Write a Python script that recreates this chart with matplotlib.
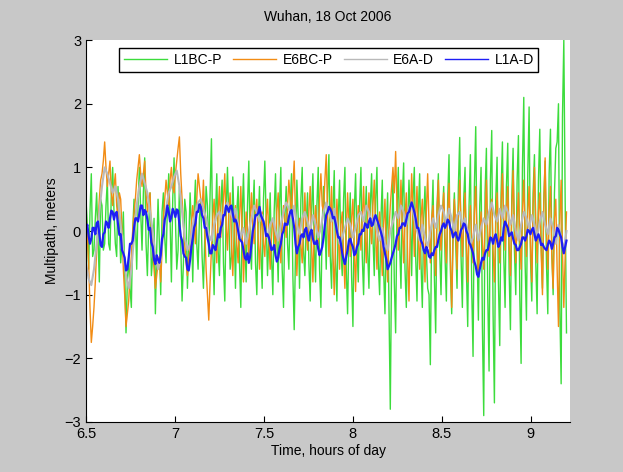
import numpy as np
import matplotlib as mpl
import matplotlib.pyplot as plt

# time span of the samples (hours of day), samples are evenly spaced
t_start = 6.5
t_end = 9.2

l1bc_p = [0.5, 0.1, -0.6, 0.3, 0.9, -0.4, -0.3, 0.2, 0.6, -0.1, -0.8, 0.5, 0.4, -0.3, -0.2, 0.4, 0.8, -0.2, -0.3, 0.6,
          1.0, 0.3, -0.2, -0.4, 0.7, 0.1, -0.5, -0.2, 0.3, -0.6, -1.6, -0.8, -0.4, -0.9, -1.2, 0.0, 0.5, 0.2, -0.6, 0.4,
          1.0, 0.3, -0.3, 0.6, 1.15, -0.2, -0.7, 0.1, 0.6, -0.7, -0.4, 0.2, -1.3, -0.3, 0.5, -0.2, -1.0, 0.3, 0.6, -0.1,
          -0.5, 0.4, 0.9, 0.2, -0.8, 0.5, 1.15, 0.2, -0.6, -0.3, 0.7, -0.2, -1.1, -0.5, 0.5, 0.3, -0.9, -0.2, 0.6, 0.1,
          -0.8, 0.3, 0.8, -0.2, -0.6, 0.2, 0.5, -0.4, -0.9, -0.1, 0.7, 0.4, -0.4, 0.6, 1.45, -0.3, -1.0, 0.2, 0.9, -0.3,
          -0.7, 0.4, 0.8, -0.5, -1.1, 0.3, 1.0, 0.2, -0.6, -0.4, 0.85, 0.1, -0.9, 0.3, 0.7, -0.5, -1.2, 0.2, 0.9, -0.1,
          -0.8, 0.4, 1.1, -0.2, -0.6, 0.3, 0.8, -0.5, -1.0, 0.1, 0.7, -0.3, -0.9, 0.5, 1.1, 0.2, -0.7, -0.1, 0.6, -0.4,
          -1.0, 0.3, 0.9, -0.1, -0.8, 0.4, 1.0, -0.6, -1.2, 0.2, 0.7, -0.2, -0.6, 0.4, 0.9, -0.7, -1.55, -0.3, 0.8, 0.2,
          -0.9, 0.5, 1.0, -0.3, -0.7, 0.1, 0.6, -0.5, -1.1, 0.3, 0.9, -0.2, -0.8, 0.4, 1.0, -0.6, -1.2, 0.1, 0.7, 0.2,
          -0.6, 0.6, 1.2, -0.4, -0.9, 0.3, 0.95, -0.5, -1.1, 0.2, 0.8, -0.3, -0.7, 0.5, 1.0, -0.6, -1.3, 0.0, 0.6, -0.7,
          -1.5, 0.3, 0.9, -0.2, -0.8, 0.4, 1.0, -0.4, -1.0, 0.1, 0.7, -0.3, -0.9, 0.4, 0.9, -0.1, -0.7, 0.5, 1.0, -0.5,
          -1.0, 0.2, 0.8, -0.6, -1.3, 0.0, 0.6, -1.2, -2.8, -0.4, 0.9, -0.8, -1.6, 0.3, 1.0, -0.2, -0.9, 0.5, 1.07, -0.6,
          -1.2, 0.1, 0.8, 0.2, -0.7, 0.5, 1.0, -0.4, -1.1, 0.3, 0.9, -0.5, -1.2, 0.2, 0.7, -0.3, -0.9, -1.0, -2.1, 0.1,
          0.8, -0.7, -1.6, 0.4, 0.9, -0.3, -1.0, 0.2, 0.7, -0.4, -1.1, 0.5, 1.2, -0.6, -1.3, 0.1, 0.6, -0.2, -0.9, 0.7,
          1.47, -0.4, -1.2, 0.5, 1.0, -0.6, -1.5, 0.4, 1.2, -0.9, -1.97, 0.7, 1.64, -0.3, -1.4, 0.4, 1.0, -1.5, -2.9, 0.6,
          1.3, -1.0, -2.2, 0.8, 1.58, -1.3, -2.7, 0.5, 1.16, -0.8, -1.8, 0.6, 1.4, -0.4, -1.2, 0.7, 1.38, -0.6, -1.55, 0.5,
          1.3, -0.3, -1.0, 0.8, 1.5, -1.0, -2.08, 1.0, 2.1, -0.5, -1.4, 0.9, 1.95, -0.4, -1.1, 0.6, 1.2, -0.5, -1.3, 0.8,
          1.6, -0.2, -0.9, 0.5, 1.1, -0.5, -1.3, 0.9, 1.6, -0.3, -1.0, 0.6, 1.3, 1.4, 2.0, -1.2, -2.4, 1.8, 3.0, 0.5,
          -1.6]

e6bc_p = [0.3, -0.1, -0.5, -1.2, -1.75, -1.5, -1.2, -0.8, -0.3, 0.1, 0.5, 0.8, 0.9, 1.1, 1.4, 1.0, 0.7, 0.9, 1.1, 0.6,
          0.4, 0.7, 0.9, 0.4, 0.2, 0.6, 0.5, 0.0, -0.6, -1.0, -1.5, -1.3, -1.1, -0.7, -0.4, 0.0, 0.3, 0.5, 0.8, 1.0,
          1.2, 0.9, 0.7, 0.9, 1.1, 0.6, 0.3, 0.5, 0.6, 0.0, -0.3, -0.6, -0.9, -0.7, -0.5, -0.4, -0.8, -0.3, 0.2, 0.5,
          0.8, 0.6, 0.4, 0.8, 1.0, 0.7, 0.6, 0.9, 1.1, 1.3, 1.48, 0.9, 0.5, 0.1, -0.2, -0.5, -0.7, -0.4, -0.3, 0.1,
          0.4, 0.1, -0.2, 0.5, 0.9, 0.7, 0.5, 0.3, 0.8, 0.1, -0.6, -1.0, -1.4, -0.8, -0.3, 0.2, 0.5, 0.0, -0.5, 0.3,
          0.7, -0.1, 0.2, 0.5, 0.9, 0.1, -0.3, 0.3, 0.6, -0.2, -0.7, 0.0, 0.4, -0.2, -0.5, 0.2, 0.7, 0.0, -0.8, -0.2,
          0.3, 0.0, -0.4, 0.2, 0.6, 0.1, -0.2, 0.3, 0.5, -0.1, -0.6, 0.0, 0.3, -0.2, -0.4, 0.2, 0.5, -0.1, -0.6, -0.1,
          0.2, 0.0, -0.3, 0.3, 0.6, 0.0, -0.5, 0.1, 0.4, 0.2, -0.1, 0.4, 0.8, 0.5, 0.3, 0.7, 1.1, 0.2, -0.7, -0.1,
          0.2, -0.2, -0.5, 0.1, 0.6, 0.0, -0.3, 0.3, 0.7, -0.2, -0.8, 0.0, 0.4, 0.1, -0.2, 0.5, 0.9, 0.4, 0.3, 0.8,
          1.2, 0.3, -0.4, 0.2, 0.7, -0.3, -1.0, -0.2, 0.5, 0.0, -0.6, 0.1, 0.3, -0.4, -0.9, 0.0, 0.6, 0.1, -0.4, 0.2,
          0.5, -0.3, -0.95, 0.0, 0.4, 0.1, -0.3, 0.2, 0.7, 0.0, -0.5, 0.2, 0.6, 0.1, -0.2, 0.4, 0.8, 0.0, -0.6, 0.1,
          0.3, -0.2, -0.7, 0.1, 0.5, -0.3, -0.8, 0.0, 0.4, 0.7, 1.0, 0.6, 1.25, 0.4, -0.3, 0.2, 0.8, 0.1, -0.5, 0.2,
          0.6, -0.4, -1.1, 0.1, 0.9, 0.3, -0.4, 0.2, 0.7, -0.1, -0.6, 0.2, 0.5, -0.2, -0.8, 0.3, 0.9, 0.1, -0.5, 0.2,
          0.4, -0.2, -0.7, 0.3, 0.8, 0.0, -0.3, 0.2, 0.6, -0.1, -0.5, 0.3, 0.75, -0.4, -1.2, -0.2, 0.5, 0.1, -0.6, 0.3,
          0.8, 0.1, -0.4, 0.2, 0.6, -0.2, -0.8, 0.1, 0.4, -0.1, -0.5, 0.3, 0.7, -0.2, -0.7, 0.0, 0.3, -0.2, -0.6, 0.2,
          0.8, 0.0, -0.4, 0.3, 0.5, -0.3, -0.8, 0.1, 0.6, 0.0, -0.5, 0.4, 0.9, 0.2, -0.3, 0.3, 0.7, -0.2, -0.7, 0.3,
          0.95, 0.1, -0.5, 0.2, 0.6, -0.1, -0.6, 0.3, 0.8, 0.0, -0.4, 0.3, 0.7, -0.2, -0.8, 0.4, 1.0, 0.2, -0.5, 0.3,
          0.6, -0.3, -1.0, 0.4, 1.15, 0.0, -0.6, 0.3, 0.7, -0.4, -0.9, 0.2, 0.5, -0.6, -1.5, 0.1, 0.8, -0.3, -1.2, -0.4,
          0.3]

e6a_d = [-0.5, -0.75, -0.85, -0.6, -0.2, 0.3, 0.7, 1.0, 0.9, 0.75,
         0.6, 0.7, 0.5, 0.1, -0.3, -0.7, -0.9, -0.6, -0.1, 0.4,
         0.7, 0.9, 0.75, 0.6, 0.3, 0.0, -0.4, -0.6, -0.45, 0.0,
         0.35, 0.6, 0.7, 0.85, 0.95, 0.7, 0.3, -0.1, -0.3, -0.2,
         0.1, 0.3, 0.45, 0.5, 0.35, 0.2, -0.05, -0.15, 0.1, 0.25,
         0.3, 0.15, 0.35, 0.45, 0.3, 0.2, 0.35, 0.1, -0.1, 0.05,
         -0.2, 0.0, 0.2, 0.4, 0.3, 0.15, 0.25, 0.05, -0.1, 0.1,
         0.2, 0.0, -0.15, 0.1, 0.3, 0.45, 0.35, 0.2, 0.4, 0.1,
         -0.05, 0.2, 0.3, 0.15, 0.0, 0.25, 0.1, -0.1, 0.05, 0.3,
         0.45, 0.3, 0.15, 0.35, 0.1, -0.2, -0.1, 0.05, 0.2, 0.1,
         -0.1, 0.05, 0.25, 0.3, 0.15, 0.4, 0.3, 0.1, 0.25, 0.0,
         -0.15, 0.05, -0.2, -0.3, 0.0, 0.15, 0.3, 0.2, 0.4, 0.3,
         0.1, 0.35, 0.45, 0.2, 0.0, -0.15, 0.1, -0.1, -0.25, 0.0,
         0.2, 0.05, 0.25, 0.4, 0.3, 0.1, 0.35, 0.2, 0.0, 0.25,
         0.3, 0.1, 0.2, 0.0, -0.2, -0.1, 0.1, -0.15, 0.05, 0.2,
         0.1, 0.3, 0.45, 0.25, 0.15, 0.35, 0.2, 0.4, 0.3, 0.1,
         0.25, 0.0, -0.15, 0.1, 0.3, 0.2, 0.05, 0.25, 0.1, -0.1,
         0.15, 0.3, 0.1, -0.05, 0.2, 0.05, -0.2, 0.1, -0.1, -0.3,
         0.0]

l1a_d = [0.02, 0.1, -0.08, -0.2, -0.12, 0.05, 0.05, -0.05, 0.12, 0.15, -0.05, -0.22, -0.25, -0.05, -0.02, 0.15, 0.12, 0.05, 0.2, 0.32,
         0.3, 0.18, 0.28, 0.3, 0.1, -0.06, -0.05, -0.3, -0.35, -0.42, -0.62, -0.6, -0.42, -0.2, -0.2, -0.15, 0.05, 0.2, 0.2, 0.15,
         0.28, 0.4, 0.4, 0.25, 0.33, 0.3, 0.18, 0.02, 0.05, -0.18, -0.25, -0.45, -0.52, -0.38, -0.45, -0.5, -0.38, -0.12, -0.05, 0.18,
         0.25, 0.4, 0.3, 0.15, 0.22, 0.35, 0.3, 0.22, 0.34, 0.32, 0.1, -0.08, -0.15, -0.35, -0.4, -0.42, -0.6, -0.62, -0.45, -0.25,
         -0.12, 0.05, 0.12, 0.3, 0.3, 0.42, 0.38, 0.25, 0.2, 0.05, 0.05, -0.1, -0.2, -0.35, -0.35, -0.22, -0.25, -0.3, -0.18, -0.05,
         -0.1, 0.05, 0.1, 0.25, 0.25, 0.4, 0.36, 0.3, 0.38, 0.4, 0.28, 0.15, 0.18, 0.12, 0.0, -0.12, -0.15, -0.18, -0.3, -0.42,
         -0.45, -0.35, -0.5, -0.4, -0.2, 0.0, 0.1, 0.25, 0.25, 0.28, 0.38, 0.25, 0.2, 0.15, 0.05, -0.08, -0.05, -0.1, -0.2, -0.3,
         -0.28, -0.22, -0.38, -0.48, -0.42, -0.28, -0.2, -0.05, 0.0, 0.12, 0.1, 0.1, 0.22, 0.3, 0.33, 0.2, 0.05, -0.2, -0.35, -0.25,
         -0.2, -0.08, -0.05, -0.1, 0.02, 0.05, -0.08, -0.15, -0.02, 0.02, -0.12, -0.2, -0.2, -0.15, -0.28, -0.38, -0.32, -0.25, -0.1, 0.1,
         0.25, 0.3, 0.38, 0.35, 0.3, 0.2, 0.22, 0.12, 0.0, -0.1, -0.1, -0.2, -0.35, -0.45, -0.52, -0.4, -0.3, -0.15, -0.12, -0.2,
         -0.25, -0.38, -0.35, -0.25, -0.2, -0.05, -0.05, 0.02, 0.0, 0.12, 0.1, 0.05, 0.15, 0.2, 0.08, 0.1, 0.2, 0.25, 0.18, 0.12,
         0.05, -0.02, -0.1, -0.25, -0.35, -0.45, -0.6, -0.55, -0.5, -0.42, -0.35, -0.28, -0.2, -0.08, -0.05, 0.05, 0.05, 0.12, 0.12, 0.08,
         0.18, 0.28, 0.3, 0.38, 0.45, 0.38, 0.3, 0.2, 0.05, 0.05, -0.05, -0.15, -0.2, -0.3, -0.35, -0.25, -0.3, -0.4, -0.42, -0.35,
         -0.38, -0.3, -0.25, -0.25, -0.14, -0.05, 0.0, 0.08, 0.12, 0.05, 0.1, 0.18, 0.15, 0.05, 0.0, -0.1, -0.05, -0.02, -0.1, -0.15,
         -0.08, 0.02, 0.05, 0.12, 0.1, 0.0, -0.05, -0.18, -0.22, -0.28, -0.35, -0.48, -0.55, -0.68, -0.72, -0.6, -0.5, -0.42, -0.45, -0.35,
         -0.3, -0.3, -0.2, -0.1, -0.12, -0.2, -0.1, -0.05, -0.15, -0.25, -0.2, -0.1, -0.15, 0.05, 0.15, 0.1, 0.05, -0.08, -0.05, -0.02,
         -0.12, -0.2, -0.22, -0.3, -0.3, -0.25, -0.2, -0.1, -0.1, -0.15, -0.08, 0.02, 0.0, -0.05, 0.02, 0.05, -0.05, -0.15, -0.1, -0.05,
         -0.12, -0.22, -0.2, -0.25, -0.28, -0.3, -0.22, -0.15, -0.18, -0.28, -0.2, -0.1, -0.08, 0.05, 0.02, -0.05, -0.1, -0.25, -0.35, -0.25,
         -0.15]

labels = ['L1BC-P', 'E6BC-P', 'E6A-D', 'L1A-D']
colors = ['#3cdc3c', '#f28c14', '#b9b9b9', '#1e1ef5']
widths = [1.0, 1.0, 1.5, 1.6]

mpl.rcParams['font.family'] = ['Liberation Sans', 'DejaVu Sans']
mpl.rcParams['font.size'] = 10

fig = plt.figure(figsize=(6.23, 4.72), dpi=100, facecolor='#c8c8c8')
ax = fig.add_axes([0.138, 0.106, 0.777, 0.809])

for y, lab, c, w in zip([l1bc_p, e6bc_p, e6a_d, l1a_d], labels, colors, widths):
    t = np.linspace(t_start, t_end, len(y))
    ax.plot(t, y, color=c, lw=w, label=lab)

ax.set_xlim(6.5, 9.22)
ax.set_ylim(-3, 3)
ax.set_xticks([6.5, 7, 7.5, 8, 8.5, 9])
ax.set_xticklabels(['6.5', '7', '7.5', '8', '8.5', '9'])
ax.set_yticks([-3, -2, -1, 0, 1, 2, 3])
ax.tick_params(direction='in', length=4, labelsize=10.5, colors='black')
for s in ['top', 'right']:
    ax.spines[s].set_visible(False)

ax.set_title('Wuhan, 18 Oct 2006', fontsize=10, pad=14)
ax.set_xlabel('Time, hours of day', fontsize=10, labelpad=2)
ax.set_ylabel('Multipath, meters', fontsize=10, labelpad=4)

leg = ax.legend(loc='upper center', bbox_to_anchor=(0.502, 0.979), ncol=4,
                handlelength=3.1, columnspacing=0.8, handletextpad=0.45,
                fancybox=False, edgecolor='black', framealpha=1,
                borderpad=0.35, borderaxespad=0, fontsize=10)
leg.get_frame().set_linewidth(1.0)
for h in leg.get_lines():
    h.set_linewidth(1.0)

fig.savefig('out.png', dpi=100, facecolor=fig.get_facecolor())
